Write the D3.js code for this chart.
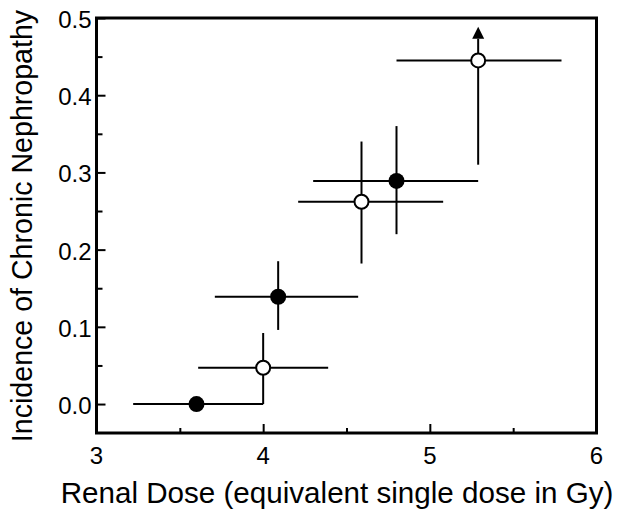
<!DOCTYPE html>
<html>
<head>
<meta charset="utf-8">
<script src="https://cdn.jsdelivr.net/npm/d3@7"></script>
<style>
  html, body { margin: 0; padding: 0; background: #fff; }
  svg { display: block; }
  text { font-family: "Liberation Sans", Arial, sans-serif; fill: #000; }
</style>
</head>
<body>
<svg id="chart" width="624" height="520"></svg>
<script>
// ---- data ----
const dose      = [3.60, 4.00, 4.09, 4.59, 4.80, 5.29];
const doseLow   = [3.22, 3.61, 3.71, 4.21, 4.30, 4.80];
const doseHigh  = [4.00, 4.39, 4.57, 5.08, 5.29, 5.79];
const incidence = [0.000, 0.047, 0.139, 0.262, 0.289, 0.445];
const incLow    = [0.000, 0.000, 0.096, 0.182, 0.220, 0.310];
const incHigh   = [0.000, 0.092, 0.185, 0.340, 0.360, 0.473];
const openMarker = [false, true, false, true, false, true];
const lowerBound = [false, false, false, false, false, true]; // arrow: value is a lower limit
const xTicks = [3, 4, 5, 6];
const xMinorTicks = [3.5, 4.5, 5.5];
const yTicks = [0.0, 0.1, 0.2, 0.3, 0.4, 0.5];
const yMinorTicks = [0.05, 0.15, 0.25, 0.35, 0.45];
const xTitle = "Renal Dose (equivalent single dose in Gy)";
const yTitle = "Incidence of Chronic Nephropathy";

// ---- layout ----
const L = 96.5, R = 596.5, T = 18, B = 433;
const svg = d3.select("#chart");
const x = d3.scaleLinear().domain([3, 6]).range([L, R]);
const y = d3.scaleLinear().domain([-0.0375, 0.5]).range([B, T]);

const pts = dose.map((d, i) => ({
  x: d, xl: doseLow[i], xh: doseHigh[i],
  y: incidence[i], yl: incLow[i], yh: incHigh[i],
  open: openMarker[i], arrow: lowerBound[i]
}));

// ---- axes (inward ticks, labels drawn separately) ----
function addAxis(axis, tf) {
  return svg.append("g").attr("transform", tf).call(axis);
}
addAxis(d3.axisBottom(x).tickValues(xTicks).tickFormat("").tickSizeInner(-9).tickSizeOuter(0), `translate(0,${B})`);
addAxis(d3.axisBottom(x).tickValues(xMinorTicks).tickFormat("").tickSizeInner(-5).tickSizeOuter(0), `translate(0,${B})`);
addAxis(d3.axisLeft(y).tickValues(yTicks).tickFormat("").tickSizeInner(-9).tickSizeOuter(0), `translate(${L},0)`);
addAxis(d3.axisLeft(y).tickValues(yMinorTicks).tickFormat("").tickSizeInner(-6).tickSizeOuter(0), `translate(${L},0)`);
svg.selectAll(".domain").remove();
svg.selectAll(".tick line").attr("stroke", "#000").attr("stroke-width", 2);
svg.selectAll(".tick text").remove();

const fmtX = d3.format("d"), fmtY = d3.format(".1f");
svg.append("g").selectAll("text").data(xTicks).join("text")
  .attr("x", d => x(d)).attr("y", 464)
  .attr("text-anchor", "middle")
  .attr("font-size", 24)
  .text(d => fmtX(d));
svg.append("g").selectAll("text").data(yTicks).join("text")
  .attr("x", 91.5).attr("y", d => y(d))
  .attr("dy", "0.42em")
  .attr("text-anchor", "end")
  .attr("font-size", 24)
  .text(d => fmtY(d));

// ---- frame ----
svg.append("rect").attr("x", L).attr("y", T)
  .attr("width", R - L).attr("height", B - T)
  .attr("fill", "none").attr("stroke", "#000").attr("stroke-width", 3);

// ---- error bars ----
const eb = svg.append("g").attr("stroke", "#000").attr("stroke-width", 2);
eb.selectAll("line.h").data(pts).join("line").attr("class", "h")
  .attr("x1", d => x(d.xl)).attr("x2", d => x(d.xh))
  .attr("y1", d => y(d.y)).attr("y2", d => y(d.y));
eb.selectAll("line.v").data(pts.filter(d => d.yh > d.yl)).join("line").attr("class", "v")
  .attr("x1", d => x(d.x)).attr("x2", d => x(d.x))
  .attr("y1", d => y(d.yl)).attr("y2", d => y(d.yh));

// arrowheads for lower-limit points
svg.selectAll("path.arrow").data(pts.filter(d => d.arrow)).join("path")
  .attr("class", "arrow")
  .attr("d", d => {
    const cx = x(d.x), by = y(d.yh);
    return `M${cx - 6},${by} L${cx + 6},${by} L${cx},${by - 12} Z`;
  })
  .attr("fill", "#000");

// ---- markers ----
svg.selectAll("circle.pt").data(pts).join("circle").attr("class", "pt")
  .attr("cx", d => x(d.x)).attr("cy", d => y(d.y))
  .attr("r", d => d.open ? 7 : 8)
  .attr("fill", d => d.open ? "#fff" : "#000")
  .attr("stroke", "#000").attr("stroke-width", d => d.open ? 2 : 0);

// ---- titles ----
svg.append("text").attr("x", 337).attr("y", 503)
  .attr("text-anchor", "middle").attr("font-size", 29.6).text(xTitle);
svg.append("text").attr("transform", "translate(32,226) rotate(-90)")
  .attr("text-anchor", "middle").attr("font-size", 28.6).text(yTitle);
</script>
</body>
</html>
